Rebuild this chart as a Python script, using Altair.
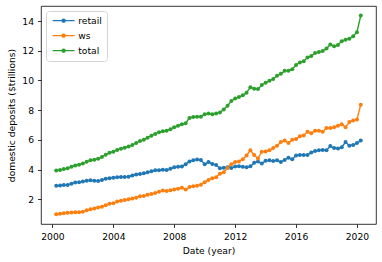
import altair as alt
import pandas as pd

series_names = ["retail", "ws", "total"]
colors = ["#1f77b4", "#ff7f0e", "#2ca02c"]

# quarterly points, 2000.25 .. 2020.25
years = [2000.25 + 0.25 * i for i in range(81)]

retail = [
    2.90, 2.92, 2.95, 2.96,
    3.05, 3.12, 3.15, 3.20,
    3.25, 3.28, 3.25, 3.22,
    3.30, 3.38, 3.42, 3.45,
    3.48, 3.50, 3.50, 3.52,
    3.60, 3.66, 3.70, 3.75,
    3.82, 3.88, 3.95, 3.96,
    3.98, 3.97, 4.05, 4.15,
    4.18, 4.20, 4.35, 4.55,
    4.62, 4.68, 4.65, 4.35,
    4.50, 4.38, 4.30, 4.08,
    4.12, 4.15, 4.10, 4.20,
    4.22, 4.18, 4.15, 4.22,
    4.45, 4.55, 4.40, 4.60,
    4.62, 4.58, 4.62, 4.50,
    4.65, 4.80, 4.70, 4.95,
    4.98, 4.98, 4.98, 5.15,
    5.25, 5.30, 5.32, 5.30,
    5.58, 5.45, 5.42, 5.50,
    5.85, 5.60, 5.65, 5.78,
    5.95,
]

ws = [
    0.99, 1.02, 1.05, 1.08,
    1.10, 1.12, 1.13, 1.15,
    1.25, 1.32, 1.38, 1.45,
    1.50, 1.60, 1.70, 1.72,
    1.85, 1.90, 1.95, 2.00,
    2.05, 2.10, 2.20, 2.22,
    2.30, 2.35, 2.42, 2.50,
    2.58, 2.55, 2.60, 2.65,
    2.70, 2.78, 2.65, 2.82,
    2.88, 2.90, 2.98, 3.15,
    3.30, 3.42, 3.48, 3.72,
    3.82, 4.10, 4.35, 4.50,
    4.55, 4.70, 4.95, 5.30,
    4.98, 4.75, 5.20, 5.22,
    5.30, 5.45, 5.60, 5.85,
    5.95, 5.78, 6.00, 6.05,
    6.25, 6.30, 6.55, 6.45,
    6.62, 6.62, 6.55, 6.80,
    6.80, 6.85, 6.95, 7.05,
    6.85, 7.20, 7.30, 7.38,
    8.37,
]

total = [
    3.93, 3.97, 4.03, 4.08,
    4.18, 4.27, 4.32, 4.40,
    4.52, 4.62, 4.66, 4.72,
    4.85, 5.00, 5.13, 5.20,
    5.32, 5.40, 5.47, 5.55,
    5.66, 5.78, 5.92, 6.00,
    6.15, 6.28, 6.40, 6.52,
    6.58, 6.62, 6.72, 6.85,
    6.95, 7.05, 7.12, 7.48,
    7.54, 7.55, 7.56, 7.72,
    7.78, 7.72, 7.78, 7.85,
    8.05, 8.30, 8.62, 8.78,
    8.88, 9.00, 9.18, 9.55,
    9.45, 9.42, 9.70, 9.85,
    9.98, 10.10, 10.32, 10.45,
    10.65, 10.66, 10.75, 11.05,
    11.22, 11.30, 11.55, 11.65,
    11.85, 11.92, 11.98, 12.15,
    12.42, 12.30, 12.40, 12.65,
    12.75, 12.82, 12.98, 13.25,
    14.38,
]

x_ticks = [2000, 2004, 2008, 2012, 2016, 2020]
y_ticks = [2, 4, 6, 8, 10, 12, 14]

rows = []
for name, vals in zip(series_names, [retail, ws, total]):
    for yr, v in zip(years, vals):
        rows.append({"year": yr, "series": name, "value": v})
df = pd.DataFrame(rows)

FONT = "DejaVu Sans"
FS = 9.2

x_enc = alt.X(
    "year:Q",
    scale=alt.Scale(domain=[1999.25, 2021.25], nice=False, zero=False),
    axis=alt.Axis(values=x_ticks, format="d", title="Date (year)",
                  labelPadding=5, titleBaseline="alphabetic", titleY=29.5),
)
y_enc = alt.Y(
    "value:Q",
    scale=alt.Scale(domain=[0.33, 15.02], nice=False, zero=False),
    axis=alt.Axis(values=y_ticks, title="domestic deposits ($trillions)",
                  labelPadding=4, titleBaseline="alphabetic", titleX=-27, titleY=109,
                  titleAngle=270),
)

sym_path = "M-3.65,0L3.65,0M-0.5,0A0.5,0.5,0,1,0,0.5,0A0.5,0.5,0,1,0,-0.5,0Z"
legend = alt.Legend(
    title=None, orient="none", legendX=5, legendY=5,
    symbolType=sym_path, symbolSize=36, symbolStrokeWidth=1.4,
    symbolOffset=8, labelOffset=10,
    labelFont=FONT, labelFontSize=FS, labelColor="black",
    strokeColor="#d5d5d5", fillColor="rgba(255,255,255,0.8)",
    cornerRadius=3, padding=5, rowPadding=5,
)
scale = alt.Scale(domain=series_names, range=colors)

lines = alt.Chart(df).mark_line(strokeWidth=1.4).encode(
    x=x_enc, y=y_enc,
    stroke=alt.Stroke("series:N", scale=scale, legend=legend, sort=series_names),
    detail="series:N",
)
points = alt.Chart(df).mark_circle(size=16, opacity=1).encode(
    x=x_enc, y=y_enc,
    fill=alt.Fill("series:N", scale=scale, legend=legend, sort=series_names),
)

chart = alt.layer(lines, points).properties(
    width=335, height=218,
    autosize=alt.AutoSizeParams(type="none"),
    padding={"left": 41, "top": 6, "right": 6, "bottom": 38},
).configure_view(
    stroke="black", strokeWidth=0.8
).configure_axis(
    grid=False, domain=False, tickSize=3.5, tickColor="black", tickWidth=0.8,
    labelFont=FONT, labelFontSize=FS, labelColor="black",
    titleFont=FONT, titleFontSize=FS, titleColor="black", titleFontWeight="normal",
)

chart.save("out.html", embed_options={"renderer": "svg", "actions": False})
